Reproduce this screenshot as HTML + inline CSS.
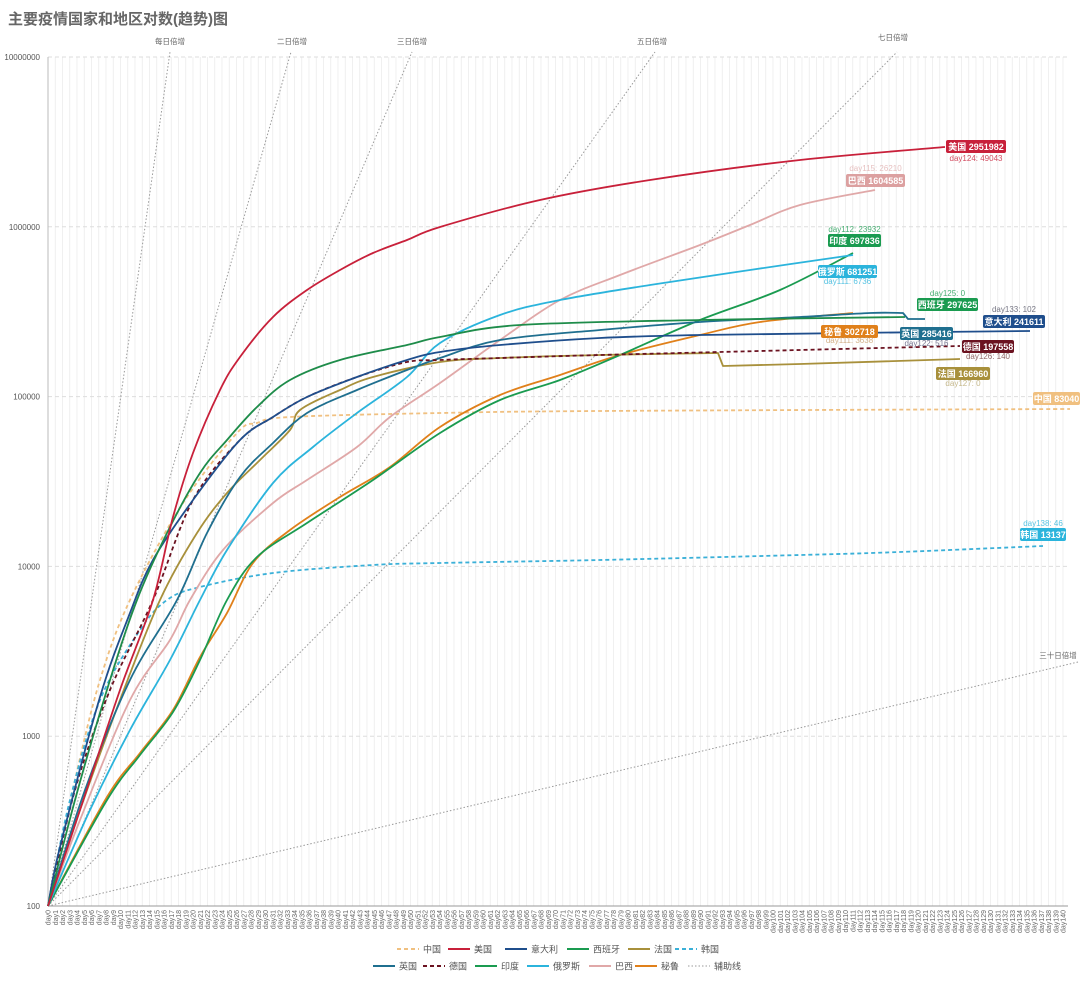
<!DOCTYPE html>
<html><head><meta charset="utf-8"><style>
body{margin:0;background:#fff;}
svg{display:block;font-family:"Liberation Sans","Noto Sans CJK SC",sans-serif;}
</style></head><body>
<svg id="s" width="1080" height="981" viewBox="0 0 1080 981" xmlns="http://www.w3.org/2000/svg">
<text x="8" y="24" font-size="15" font-weight="bold" fill="#666">主要疫情国家和地区对数(趋势)图</text>
<g id="grid"></g>
<g id="aux" stroke="#999" stroke-width="1" stroke-dasharray="1.5,2" fill="none">
<line x1="48" y1="906" x2="170" y2="52"/>
<line x1="48" y1="906" x2="291" y2="52"/>
<line x1="48" y1="906" x2="412" y2="52"/>
<line x1="48" y1="906" x2="655" y2="52"/>
<line x1="48" y1="906" x2="897" y2="52"/>
<line x1="48" y1="906" x2="1078" y2="662"/>
</g>
<g font-size="7.5" fill="#666" text-anchor="middle">
<text x="170" y="44">每日倍增</text><text x="292" y="44">二日倍增</text><text x="412" y="44">三日倍增</text><text x="652" y="44">五日倍增</text><text x="893" y="40">七日倍增</text><text x="1058" y="658">三十日倍增</text>
</g>
<g id="series" fill="none" stroke-width="1.8" stroke-linejoin="round"></g>
<g id="labels"></g>
<g id="legend" font-size="9" fill="#555"></g>
</svg>
<script>
const S=document.getElementById('s');const NS='http://www.w3.org/2000/svg';
function el(t,a,p){const e=document.createElementNS(NS,t);for(const k in a)e.setAttribute(k,a[k]);(p||S).appendChild(e);return e;}
const G=document.getElementById('grid');
for(let i=0;i<=140;i++){const x=48+i*7.25;el('line',{x1:x,y1:57,x2:x,y2:906,stroke:'#ececec','stroke-width':0.8},G);
 const t=el('text',{x:0,y:0,'font-size':7,fill:'#666','text-anchor':'end',transform:`translate(${x+2.5},910) rotate(-90)`},G);t.textContent='day'+i;}
const yl=['10000000','1000000','100000','10000','1000','100'];
for(let k=0;k<6;k++){const y=57+k*169.8;
 if(k<5)el('line',{x1:48,y1:y,x2:1070,y2:y,stroke:'#ddd','stroke-dasharray':'4,3','stroke-width':1},G);
 const t=el('text',{x:40,y:y+3,'font-size':8,fill:'#555','text-anchor':'end'},G);t.textContent=yl[k];}
el('line',{x1:48,y1:57,x2:48,y2:906,stroke:'#bbb','stroke-width':1},G);
el('line',{x1:48,y1:906,x2:1068,y2:906,stroke:'#999','stroke-width':1},G);
function seg(pts,first){let d=(first?'M':'L')+pts[0][0]+','+pts[0][1];for(let i=0;i<pts.length-1;i++){const p0=pts[i-1]||pts[i],p1=pts[i],p2=pts[i+1],p3=pts[i+2]||p2;
 const c1=[p1[0]+(p2[0]-p0[0])/6,p1[1]+(p2[1]-p0[1])/6],c2=[p2[0]-(p3[0]-p1[0])/6,p2[1]-(p3[1]-p1[1])/6];d+=`C${c1[0].toFixed(1)},${c1[1].toFixed(1)} ${c2[0].toFixed(1)},${c2[1].toFixed(1)} ${p2[0]},${p2[1]}`;}return d;}
function path(pts){const parts=[[]];for(const p of pts){if(p===null)parts.push([]);else parts[parts.length-1].push(p);}
 return parts.map((q,i)=>seg(q,i===0)).join('');}
const O=[48,906];
const series=[
['中国','#f0c080',true,[O,[75,780],[100,680],[130,600],[183,503],[237,433],[257,423],[290,417],[440,413],[600,411],[1070,409]]],
['韩国','#3ab0d8',true,[O,[70,800],[100,700],[140,630],[167,600],[200,587],[273,573],[373,565],[440,563],[600,560],[800,555],[900,552],[1043,546]]],
['巴西','#e0a8a8',false,[O,[80,820],[130,700],[170,640],[190,600],[223,550],[273,503],[307,480],[357,447],[390,417],[440,383],[500,340],[560,300],[620,275],[700,245],[750,225],[800,205],[875,190]]],
['秘鲁','#e0801a',false,[O,[107,797],[140,753],[173,710],[200,657],[227,613],[253,563],[290,530],[340,497],[390,467],[440,427],[500,395],[560,375],[620,355],[700,335],[760,322],[853,313]]],
['印度','#1a9b50',false,[O,[107,800],[140,755],[173,712],[200,660],[227,600],[257,557],[307,523],[373,480],[440,433],[500,400],[560,380],[620,355],[700,320],[780,290],[853,253]]],
['俄罗斯','#2bb4dc',false,[O,[90,810],[130,730],[170,660],[200,600],[227,550],[273,483],[313,447],[357,413],[407,377],[440,343],[500,315],[560,300],[650,285],[750,270],[853,255]]],
['法国','#a8903b',false,[O,[80,810],[120,700],[160,600],[197,533],[227,493],[260,460],[290,430],[300,410],[340,390],[373,377],[440,362],[500,358],[600,355],[718,353],null,[723,366],[800,364],[960,359]]],
['英国','#1f6f8f',false,[O,[85,790],[130,680],[177,600],[207,533],[240,477],[273,443],[307,413],[357,390],[407,370],[440,358],[500,340],[600,330],[700,322],[800,317],[870,313],[903,313],null,[908,319],[925,319]]],
['德国','#6b1220',true,[O,[75,790],[110,690],[153,600],[193,500],[240,440],[273,417],[307,397],[357,377],[407,362],[440,360],[500,358],[600,355],[720,352],[960,346]]],
['意大利','#1f4e8c',false,[O,[60,847],[100,697],[130,613],[153,560],[193,500],[240,440],[273,417],[307,397],[357,377],[407,360],[440,352],[500,345],[600,338],[700,335],[850,333],[1030,331]]],
['西班牙','#1e8c4a',false,[O,[75,800],[110,680],[137,600],[167,533],[200,473],[227,440],[257,407],[290,380],[340,360],[407,345],[440,337],[520,325],[700,320],[905,317]]],
['美国','#c8203a',false,[O,[80,810],[120,690],[153,600],[173,517],[193,453],[220,390],[240,357],[273,317],[307,290],[340,270],[373,253],[407,240],[440,227],[540,200],[650,180],[800,160],[945,147]]],
];
const SG=document.getElementById('series');
for(const s of series){const a={d:path(s[3]),stroke:s[1]};if(s[2])a['stroke-dasharray']='4,3';el('path',a,SG);}
const L=document.getElementById('labels');
function badge(x,y,w,txt,col,sub,sy,tc){el('rect',{x:x,y:y,width:w,height:13,rx:2,fill:col},L);
 const t=el('text',{x:x+w/2,y:y+10,'font-size':9,'font-weight':'bold',fill:'#fff','text-anchor':'middle'},L);t.textContent=txt;
 if(sub){const u=el('text',{x:x+w/2,y:sy,'font-size':8,fill:tc||col,'text-anchor':'middle','opacity':0.8},L);u.textContent=sub;}}
badge(946,140,60,'美国 2951982','#c8203a','day124: 49043',161);
badge(846,174,59,'巴西 1604585','#dca0a0','day115: 26210',171,'#e0b0b0');
badge(828,234,53,'印度 697836','#1a9b50','day112: 23932',232);
badge(818,265,59,'俄罗斯 681251','#2bb4dc','day111: 6736',284);
badge(917,298,61,'西班牙 297625','#1a9b50','day125: 0',296);
badge(983,315,62,'意大利 241611','#1f4e8c','day133: 102',312,'#556');
badge(821,325,57,'秘鲁 302718','#e0801a','day111: 3638',343,'#c9a070');
badge(900,327,53,'英国 285416','#1f6f8f','day122: 516',346,'#557');
badge(962,340,52,'德国 197558','#6b1220','day126: 140',359,'#744');
badge(936,367,54,'法国 166960','#a8903b','day127: 0',386,'#b8a870');
badge(1033,392,47,'中国 83040','#f0c080',null);
badge(1020,528,46,'韩国 13137','#2bb4dc','day138: 46',526);
const LG=document.getElementById('legend');
function leg(x,y,col,dash,name){const a={x1:x,y1:y,x2:x+22,y2:y,stroke:col,'stroke-width':dash==='dot'?1:2};if(dash===true)a['stroke-dasharray']='4,3';if(dash==='dot')a['stroke-dasharray']='1.5,2';el('line',a,LG);
 const t=el('text',{x:x+26,y:y+3.5},LG);t.textContent=name;}
leg(397,949,'#f0c080',true,'中国');leg(448,949,'#c8203a',false,'美国');leg(505,949,'#1f4e8c',false,'意大利');leg(567,949,'#1a9b50',false,'西班牙');leg(628,949,'#a8903b',false,'法国');leg(675,949,'#3ab0d8',true,'韩国');
leg(373,966,'#1f6f8f',false,'英国');leg(423,966,'#6b1220',true,'德国');leg(475,966,'#1a9b50',false,'印度');leg(527,966,'#2bb4dc',false,'俄罗斯');leg(589,966,'#e0a8a8',false,'巴西');leg(635,966,'#e0801a',false,'秘鲁');leg(688,966,'#999','dot','辅助线');
</script>
</body></html>
